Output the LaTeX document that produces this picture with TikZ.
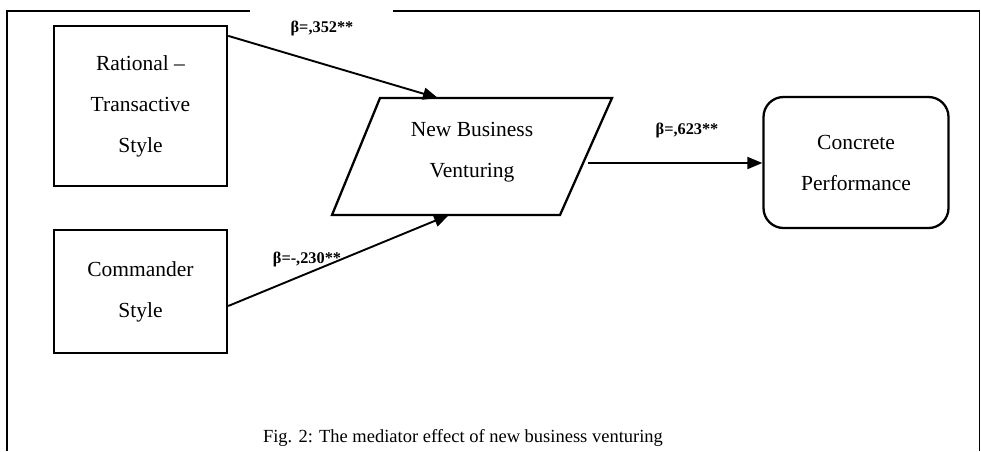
\documentclass[tikz,border=0pt]{standalone}
\usepackage{fontspec}
\setmainfont{Liberation Serif}
\usetikzlibrary{arrows.meta}
\begin{document}
\begin{tikzpicture}[x=1pt,y=-1pt,
  frame/.style={line width=1.5pt},
  box/.style={draw, line width=2.3pt, inner sep=0pt, align=center, font=\fontsize{21.5}{41}\selectfont},
  conn/.style={line width=1.9pt, -{Triangle[length=15pt,width=12pt]}},
  beta/.style={font=\fontsize{16.3}{18}\selectfont\bfseries, inner sep=0pt},
  txt/.style={align=center, inner sep=0pt, font=\fontsize{21.5}{41}\selectfont}]
\useasboundingbox (0,0) rectangle (981,451);
% frame
\draw[frame] (7,451) -- (7,11) -- (250,11);
\draw[frame] (393,11) -- (979.5,11) -- (979.5,451);
% boxes
\node[box, minimum width=173pt, minimum height=160pt] (b1) at (140.5,106) {Rational --\\Transactive\\Style};
\node[box, minimum width=173pt, minimum height=123pt] (b2) at (140.5,291.5) {Commander\\Style};
\node[box, rounded corners=20pt, minimum width=185pt, minimum height=131pt] (c) at (856,162.5) {Concrete\\Performance};
% parallelogram
\coordinate (p1) at (380,98);
\coordinate (p2) at (612,98);
\coordinate (p3) at (560,215);
\coordinate (p4) at (332,215);
\draw[line width=2.3pt, line join=miter] (p1) -- (p2) -- (p3) -- (p4) -- cycle;
\node[txt] (nbv) at (472,152) {New Business\\Venturing};
\coordinate (nt) at (438,98);
\coordinate (nb) at (449,215);
\coordinate (ne) at (588,163);
% connectors
\draw[conn] ([yshift=-11pt]b1.north east) -- (nt);
\draw[conn] ([yshift=-14.5pt]b2.east) -- (nb);
\draw[conn] (ne) -- (ne -| c.west);
% labels
\node[beta] (l1) at (322,28) {β=,352**};
\node[beta] (l2) at (307,259) {β=-,230**};
\node[beta] (l3) at (687,130) {β=,623**};
\node[inner sep=0pt, font=\fontsize{18.5}{20}\selectfont] (cap) at (463,438) {Fig. 2: The mediator effect of new business venturing};
\end{tikzpicture}
\end{document}
